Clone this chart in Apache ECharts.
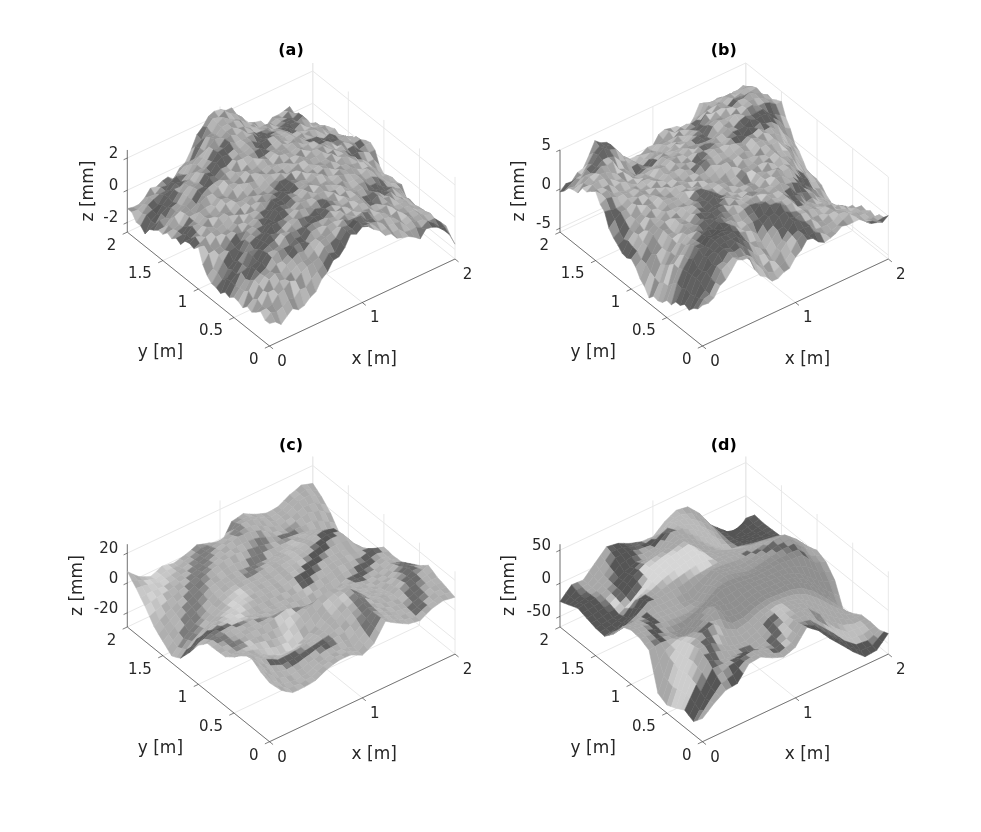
<!DOCTYPE html>
<html><head><meta charset="utf-8"><style>html,body{margin:0;background:#fff}#c{width:981px;height:832px}</style>
<script src="https://cdn.jsdelivr.net/npm/echarts@6/dist/echarts.min.js"></script></head><body><div id="c"></div>
<script>
const panelNames=['(a)','(b)','(c)','(d)'];
const xTicks=[0,1,2];
const yTicks=[0,0.5,1,1.5,2];
const zTicksA=[-2,0,2], zTicksB=[-5,0,5], zTicksC=[-20,0,20], zTicksD=[-50,0,50];
const zLimitsA=[-2.6,2.5], zLimitsB=[-5.5,5], zLimitsC=[-29.5,26], zLimitsD=[-66,59];
// surface heights in mm, rows y = 0..2, columns x = 0..2
const heightA=[
[-1.2,-1.5,-1.1,-1.05,-.6,.45,.95,1.85,2.1,1.7,.85,.5,.05,-.2,.1,-.45,-1.6],
[-1,-.6,-.2,.1,.4,.9,1.3,1.9,2,1.7,1.1,.8,.5,.2,.1,-.2,-1.1],
[-1.35,-.3,.2,.5,.8,1.2,1.5,1.8,1.9,1.6,1.3,1,.7,.4,.2,-.3,-1.15],
[-1.45,-.2,.4,.8,1.1,1.3,1.6,1.7,1.8,1.6,1.4,1.1,.9,.5,.2,-.5,-1.3],
[-1.5,-.4,.3,.9,1.2,1.4,1.6,1.7,1.8,1.7,1.5,1.2,1.1,.7,.3,-.4,-1.1],
[-1.5,-.6,.2,.8,1.2,1.5,1.7,1.8,1.9,1.8,1.6,1.4,1.2,.9,.4,-.3,-1.35],
[-1.75,-.8,.1,.6,1,1.4,1.6,1.8,1.9,1.9,1.7,1.6,1.4,1.2,.6,-.2,-.75],
[-1.4,-.5,.1,.5,.9,1.2,1.5,1.7,1.8,1.9,1.8,1.7,1.6,1.3,.7,-.1,-.7],
[-.15,-.1,.2,.5,.8,1.1,1.4,1.6,1.8,1.9,1.8,1.8,1.7,1.3,.6,-.2,-1],
[-.2,0,.3,.6,.8,1.1,1.4,1.6,1.7,1.8,1.9,1.9,1.7,1.2,.7,.3,.2],
[-.55,-.1,.3,.6,.9,1.2,1.5,1.6,1.7,1.8,1.9,1.8,1.5,1.1,.8,.6,.5],
[-.75,-.3,.2,.7,1,1.3,1.5,1.7,1.7,1.8,1.8,1.6,1.3,1,.7,.4,-.05],
[-.85,-.4,.1,.7,1.1,1.4,1.7,1.8,1.8,1.8,1.7,1.4,1.1,.8,.5,0,-.4],
[-1.15,-.6,-.1,.5,1,1.5,1.9,2,1.9,1.7,1.4,1.2,.9,.7,.4,-.2,-.65],
[-1.75,-.8,-.3,.2,.6,1.2,1.9,2.2,2.1,1.6,1.1,.9,.8,.7,.4,-.3,-.55],
[-1.4,-.9,-.5,-.2,.1,.8,1.6,2.3,2.3,1.7,1,.6,.4,.5,.4,-.4,-1.05],
[-1.15,-1.05,-.7,-.5,-.5,0,1.3,2.3,2.3,2.2,.9,.45,.1,.3,.35,-.6,-1.35]];
const heightB=[
[-.4,0,1.8,3.25,2.8,.1,-1.4,-1.25,.15,1.85,.95,.45,1.25,1.6,.7,-.45,-.05],
[-1.85,.3,2.2,3.4,3.2,1.5,-.2,-.5,1,2.4,1.8,1,1.5,1.7,.6,-.8,-1],
[-2.3,.5,2.4,3.6,3.8,3,1,.2,1.6,2.8,2.6,1.6,1.4,1.3,.2,-1.2,-1.45],
[-2.75,.6,2.6,3.4,3.6,3.2,2,1.4,2.6,3.4,3,2,1.2,.6,-.2,-1.3,-1.55],
[-3.5,.3,2.3,3,3.2,3.2,2.6,2.6,3.2,3.4,3.2,2.4,1.2,.4,-.6,-1.8,-2.45],
[-4.3,-.6,1.8,2.6,3,3.2,3,3.2,3.2,3,3.4,3.2,2.2,.8,-.8,-2.6,-3.55],
[-4.6,-1,1.2,2.2,2.8,3,3.2,3,2.6,2.6,3.2,3.8,3.2,1.6,-.6,-3,-4.7],
[-3.2,-.5,1.2,2,2.6,3,3.4,2.6,2.2,2.4,3,3.6,3.8,2.6,.4,-2,-3.5],
[-1.75,0,1.4,2,2.4,2.8,3,2.4,2.4,2.8,3.2,3.6,4,3.4,1.6,-1,-2.7],
[-1.85,0,1.5,2,2.3,2.6,2.6,2.6,3,3.4,3.6,3.8,4.2,3.8,2.6,.2,-2.75],
[-1.05,.6,1.7,2.1,2.3,2.4,2.4,2.8,3.4,3.6,3.8,4,4.3,4.2,3.4,1,-1.1],
[1.5,1.6,1.9,2,2,2.2,2.4,2.8,3.4,3.6,3.8,4,4.4,4.5,4.2,2.8,1],
[3.1,2.6,2,1.6,1.6,1.8,2.4,2.8,3,3,3.4,4,4.6,4.8,4.6,4.2,3.5],
[2.65,3,2.6,1.8,1,1,1.6,2.4,2.6,2.6,2.8,4,4.4,4.8,5,4.8,3.3],
[1.5,2.6,3.2,3,1.4,.4,.6,1.2,1.6,1.8,2.2,3.4,4,4.4,4.4,4.4,2.5],
[.8,1.5,2.8,4,3.2,1,.2,.4,.8,1.4,1.6,2,3.2,3.4,3.6,3.4,2],
[-.15,.4,1.25,4,3.5,.65,-.5,-.3,.25,1.5,.8,.1,2.6,2.15,1.65,1.35,1]];
const heightC=[
[10,1.2,-4,-4,-3,1,3,3,-1,3,14.5,9.6,5.4,4,8.3,10,8.7],
[12.5,3,-3,-4,-3,0,2,2,0,6,14,10,6,5,8,11,10.7],
[16.5,7,0,-2,-1,1,3,4,5,10,14,10,7,6,9,12,12.5],
[15,9,4,0,0,1,2,4,8,13,16,11,8,7,11,13,15.6],
[8,6,3,-2,-5,-5,-2,3,10,15,17,10,6,5,9,13,10.7],
[3.4,3,3,2,0,-1,4,9,13,15,13,7,5,3,5,9,7],
[3,3,3,4,4,6,8,6,3,2,3,5,4,2,3,6,3.4],
[2.7,3,4,4,4,2,1,0,-2,-3,-2,-1,2,2,3,5,3],
[-3.3,1,2,2,1,0,0,0,0,1,2,3,5,5,4,6,3.8],
[-13,-6,-2,0,1,2,2,2,2,4,5,6,7,7,6,2,-3],
[-21.7,-14,-9,-5,-1,2,3,3,3,5,6,7,9,11,10,0,-12],
[-25,-17,-11,-6,-1,2,3,3,4,5,6,7,9,11,9,-5,-26],
[-20,-14,-8,-4,1,3,4,3,2,2,3,4,5,6,3,-8,-16],
[-14.8,-10,-6,-2,2,5,7,8,7,6,4,3,2,1,-1,-6,-11],
[-6.2,-4,-3,-1,1,3,6,9,11,11,8,3,1,3,5,3,-2.4],
[1.2,0,-2,-1,0,2,4,6,8,11,11,6,2,4,8,9,3.8],
[7.6,.5,-3,.2,-1.5,.5,3.4,1,-4,8,9.8,5.6,2.7,3.4,7.6,10.5,8]];
const heightD=[
[-31,-16.5,-5,-3,18.5,20.5,11,4,10.5,32.5,19,-1.5,-19.5,-38,-53.5,-52,-35],
[-46.5,-20,5,12,15,18,12,6,12,28,24,6,-12,-32,-46,-48,-40.5],
[-40,-10,18,10,8,5,2,6,18,26,28,14,-4,-24,-38,-40,-39],
[-48,-5,25,25,15,5,4,10,22,28,26,20,4,-14,-28,-38,-39.5],
[-54,-8,22,30,35,20,10,14,22,26,25,22,14,0,-18,-34,-48],
[-47,-2,15,20,30,38,18,16,22,26,25,25,22,10,-8,-30,-56],
[7,10,8,4,20,30,25,20,25,28,27,26,24,16,0,-14,-19.5],
[14,12,6,0,0,10,22,30,30,28,26,26,28,26,24,5,-2.5],
[15.5,14,8,4,2,2,8,25,32,28,22,24,28,30,30,15,4],
[10,8,5,6,5,4,2,14,28,25,20,22,26,32,33,18,-1.5],
[-12,-8,0,12,10,12,14,18,20,22,22,18,20,22,20,8,-14.5],
[-26,-22,-15,6,10,18,24,28,32,20,18,12,8,8,6,-5,-20.5],
[-24.5,-22,-20,-10,4,20,28,32,36,20,10,2,-4,-6,-10,-15,-18.5],
[-20.5,-18,-15,-5,10,20,24,28,34,25,12,0,-18,-20,-20,-20,-19.5],
[-16,-14,-12,-4,6,12,10,15,32,30,20,8,-10,-22,-25,-24,-20],
[-22,-16,-12,-2,16,18,12,10,20,28,26,15,0,-20,-30,-22,-18.5],
[-27.5,-10.5,-11.5,5.5,22,19,10.5,5,4,18.5,27.5,24.5,6.5,-19.5,-35,-53.5,-34]];
// fine surface relief (hex digits, 7-8 = no change), estimated from the texture of the picture
const reliefA=[
"7b39e25a8c1f64d07a3b9e26c81f5a7d4","2e86a1d4b73f09c5e28a6d1b47f3c90e6","c4097f3ad61e82b5c047fa39d2e6718bc",
"81e5b27c904da63f18e5c29b70d4a6f31","6a3fd08be1752c94a63ef1b80d7592c4a","e17b4926fa0c83d5e1947b26fa38c0d59",
"3d950ce7182ba64f3d90ce582b17f46a9","b62a8f41de73095cb62a8d41f7e3905cb","f80d3c65a19e72b4f80c3d65a91e27b40",
"47e1b98d0263fa5c74e1b98d0632fa5c7","9c36f05ae8124db79c36f50ae1824db79","1ea84c72b3d9065f1ea84c27b39d605f1",
"d5702ea916fc384bd5072ea961fc348bd","68bf31d7a04e9c2586bf31d7a40e9c258","a2c49e06583f7d1ba2c4e906538f7d1ba",
"3f71d8b2c6e0945a3f17d8b2ce60945a3","e90a546f1b7c23d8e90a456f1b7c32d8e","15cb78e3a9d2046f15bc78e3a9d2064f1",
"7d2e0b94f6381ac57d2e0b9f46381ac57","b468d31ca07f5e29b486d31ca70f5e29b","0af5927e4bd1c6380fa5927e4db1c6380",
"c397ea160d58b24f3c97ea160d85b24f3","583b1fc69e2a07d4583b1cf69e2a70d45","e61d407a8352fb9ce16d407a3852fb9ce",
"29fc85b3e1704a6d29cf85b3e7104a6d2","a04738d6f2ce591ba04378d6f2ce519ba","7e1b5ca0943d8f267e1b5ca9043d8f627",
"d38629f7b15e0ca4d38269f7b1e50ca4d","4c09ae13687fd25b4c90ae13678fd25b4","9f52d7b04ca1e3689f25d7b04ac1e3689",
"16ba83ef5927c04d16ab83ef5972c04d1","e57c2906db4f1a83e75c2906bd4f1a83e","8203f6ae1c97d54b8023f6ae1c79d54b8"];
const reliefB=[
"a37e15c9d04b86f2a37e51c9d40b86f2a","5c18fb6027e9a3d45c81fb6207e9a3d45","e906d3a4b1752f8ce906d3a41b75f28ce",
"27bd4f80ca369e1527db4f80ac369e152","f4a1e7352d08c96bf4a17e352d08c69bf","6d8029bc5fe3174a6d8209bc5ef3174a6",
"b35fc1a87604de29b3f5c1a87640de29b","0e76d492a3b81cf50e67d492a38b1cf50","c92ab58e1f6d3074c9a2b58e1f6d3704c",
"41f837d06ce295ab41f873d06ce259ab4","8ad25c1be7096f348da25c1be7906f348","f3690ea4827bd1c5f3960ea4872bd1c5f",
"2c17b5d3f9064ea82c71b5d3f9604ea82","97e4c0a26d18f3b597e4ca026d81f3b59","5b08e3f17c92a64d5b80e3f1c792a64d5",
"d16f9a47b025c83ed16fa947b05c283ed","a42c76e8301fb59da24c76e3801fb95da","38e1d05b96f7c2a438e1d50b96f7c24a3",
"7fb95c2ea1480d637fb59c2ea1840d637","c0482d7f36eb91a5c0428d7f3e6b91a5c","e6a3f1984d0c572be6a3f9184d0c527be",
"19d57eb0c26a8f3419d75eb0c2a68f341","b72084c63f5ed9a1b72804c63f5de9a1b","4fe6a9d17b382c054fe69ad17b38c2054",
"d2c05387ea1f6b94d2c50387e1af6b94d","863b1ef40a7d9c25863b1fe40a7dc9258","0a9d74c2e5b86f130a9d7c42e5b8f6130",
"f51ea60d928b37c4f51ae60d92b837c4f","3c84b7f1d6095ea23c48b7f1d6905ea23","a6f2093c5e7d18b4a6f2903c57ed18b4a",
"e17d5ba48c2906f3e71d5ba48c9206f3e","59b0cf327d6a1e8495b0cf32d76a1e849","2d4e87a1063fc95b2d48e7a1603fc95b2"];
const reliefC=[
"79b5a7c68a6b7948a6c7b5968a7c59a67","8a6c7b5968a7c49a67a9b5a7c68b6a794","6b8a7c5a79b68a6c79b5a8c679a5b7a86",
"a7c5968b7a6c8a7b5968a7c6a95b7c68a","79b6a8c57a9b68a7c5a96b8c7a5b968a7","8c6a7b59a8c67b9a58a7c6b8a59c7a68b",
"6a9b7c58a6b97c8a5b7a9c68b7a5c96a8","b79a5c86a7b98c6a7b5a9c7a68b9a5c76","7a8c6b59a7c8b6a95a7c8b69a7b5c8a67",
"9b6a8c7a5b9c68a7b9a5c7b68a9c6b75a","6c8a7b95a6c8b7a59c7a6b8a95c7b6a8a","a7b9c65a8b7c9a68b5a7c9b68a7c59b6a",
"8a5c7b96a8c7b5a96c8a7b9a56c8b7a9a","7c9a68b7a5c9b6a8c7b9a5c68a9b7c6a8","a68b9c7a5b8c96a7b8c5a97b6a8c9b7a5",
"5b9a7c86a9c7b58a9b6c7a8a5c9b7a68c","8c7a9b65a8b9c7a5b8a9c67b9a5c8b7a6","a5b8c97a6c8b9a7c5a9b8c6a7b9c5a8b7",
"7a9c8b5a6b9c7a8b5c9a7b8c6a9b5c7a8","c68b9a7c5a8b9c7a6b8c5a9b7c8a6b9a7","9a7c5b8a9c6b7a9c8a5b9c7a8b6c9a7b5",
"6b8a9c7b5a9c8b7a6c9a8b5c7a9b8c6a7","a9c7b68a5c9b8a7c6b9a8c5b7a9c8b6a7","7b5c9a8b6a9c7b8a5c9b7a6c8b9a5c7b8",
"9a8c6b7a9c5b8a7c9b6a8c7b5a9c8b7a6","5c9b7a8c6b9a7c5b8a9c7b6a8c9b5a7c8","b7a9c8a5b9c7a6b8c9a7b5c8a9b6c7a5b",
"8c6a9b7c5a8b9c7a6b9c8a5b7c9a8b6c7","a7b9c5a8c7b9a6c8b5a9c7b8a6c9b7a5c","6c8b7a9c5b8a9c7b6a8c9b5a7c8b9a6c7",
"9b5a8c7b9a6c8b7a5c9b8a7c6b9a8c5b7","7a9c6b8a5c9b7a8c6b9a5c8b7a9c6b8a7","c8b7a5c9a8b6c7a9b5c8a7b9c6a8b5c7a"];
const reliefD=[];
// shaded bands on the surface: [x1, y1, x2, y2 in grid steps of 0.125 m, half width, grey factor]
const bandsA=[
[1.7,3.7,7.2,7.5,.9,.12],[.5,5,2,6.5,.8,.12],[3.8,2.4,8,4,.6,.15],[5.2,.1,8,.6,.6,.15],
[1.5,13.5,3,15,.8,.15],[0,13,1,14.5,.6,.12],[0,9,1,10.5,.6,.12],[2.9,11.6,6,13,.6,.15],
[8,11.5,10,13.3,.6,.15],[11.8,13.5,13.2,14.8,.6,.2],[12,10.5,14,11,.6,.15],[13.3,8.5,15,9.5,.5,.15],
[11.5,3.5,13.5,5,.5,.2],[13.8,.1,15.3,.5,.5,.1],[8,1,10,1.5,.5,.25],[5,15,6.5,15.9,.4,.25]];
const bandsB=[
[.5,2,4,2.5,1.8,.12],[3.5,3.5,6,7,1.2,.15],[7.8,3.8,9.6,.6,1,.12],[10.5,3.7,13.9,6.3,.6,.12],
[11.1,10.5,14.6,11.3,.8,.1],[12.5,13.3,14,13,.3,.15],[9.3,12,10.6,14.5,.5,.2],[7.5,10,9,11.5,.4,.25],
[2,14.5,3.5,15.5,.6,.2],[.1,8,.6,11,.4,.12],[5.2,14,6.4,14,.4,.15],[0,15.5,1,16,.4,.1],
[14.8,.1,16,.2,.4,.1],[9,5.6,9.2,7.6,.2,.5],[.6,7,1.6,7.5,.4,.55]];
const bandsC=[
[.5,14,3,16,1,1.3],[3,8,5,10,.9,1.3],[5,4,6,6,.8,1.3],[9,8,11,12,.7,1.1],[8.5,4,10.5,3,.5,1.2],[2,5,4,4,.6,1.2],
[9.5,8.5,13.7,10.9,.55,0],[1.3,10.7,6,15.2,.8,.45],[7.1,11.4,9.6,13.3,.6,.4],[8.3,14.2,8.9,15.6,.5,.55],
[12.5,6.5,15,8,.55,.1],[15.7,5.4,13.5,.9,.7,.25],[2.5,2.8,6.5,2,.5,.12],[.1,9.6,1.5,8,.5,.1],
[.8,7.5,1.5,5.5,.5,.4],[9.5,1,10.3,3.5,.7,.35],[11,13,12.5,13.5,.4,.3],[.1,8.7,3,7.3,.25,.25],[3,7.3,8,5.3,.2,.5]];
const bandsD=[
[3,12.5,8,11,1.3,1.55],[9,15.5,12,12.5,1.4,1.2],[.3,2.5,2,5,.9,1.45],[3.5,3.5,5,5.5,.8,1.25],
[7.5,1,9,3,.8,1.3],[12,1,15,2,.8,1.25],[4,6,14,6,2.2,.7],[6,9,14,8,1.1,.85],
[3.5,13,5,15.5,1.2,0],[0,16,1.2,11,1.4,0],[1.5,11,3,10.5,.8,0],[2.3,9,1.1,6.4,.5,0],
[0,1.5,1.5,1,.8,0],[2.3,1.7,3.5,4.2,.5,.15],[2.7,.2,5.5,2,.5,0],[3.5,4.5,6.5,4.5,.2,0],
[14.5,15.5,14.5,11.5,2,0],[15.4,11.5,15.4,10,1,0],[9.5,.2,14.8,.4,.7,0],[15,.2,16,.2,.3,0],[7,.8,8,2.6,.5,.15],
[11,2,12,2,.3,.1],[11,10,14.5,7,.3,.2],[6.5,15.5,8,14.5,.5,0]];
const heightGrids=[heightA,heightB,heightC,heightD];
const reliefGrids=[reliefA,reliefB,reliefC,reliefD];
const bandLists=[bandsA,bandsB,bandsC,bandsD];
const zTicks=[zTicksA,zTicksB,zTicksC,zTicksD];
const zLimits=[zLimitsA,zLimitsB,zLimitsC,zLimitsD];
const xMax=2,yMax=2;
// chart layout and look
const boxes=[{l:127.3,t:62.7,w:327.7,h:283.3},{l:560,t:62.7,w:328.3,h:283.3},{l:127.3,t:456.3,w:327.7,h:285.4},{l:560,t:456.3,w:328.3,h:285.4}];
const view={fu:.434,vx:.307,vy:.402,vz:.29};
const reliefScale=[.022,.04,.03,0], baseGrey=[0xa6,0xaa,0xb0,0xa8], speckle=[1.5,1.5,.7,0];
const zLabelOffset=[-39,-40,-50,-50];
const font='"DejaVu Sans"',inkColor='#262626',gridColor='#e8e8e8';

function toView(p,x,y,z){const fx=x/xMax,fy=y/yMax,fz=(z-zLimits[p][0])/(zLimits[p][1]-zLimits[p][0]);
  return [view.fu+fx*(1-view.fu)-fy*view.fu,view.vx*fx+view.vy*fy+view.vz*fz];}
function relief(p,a,b){const r=reliefGrids[p][b];const c=r?r.charAt(a):'';return c?parseInt(c,16)-7.5:0;}
function heightAt(p,a,b){
  const g=heightGrids[p],i=a>>1,j=b>>1,ii=(a+1)>>1,jj=(b+1)>>1;
  return (g[j][i]+g[j][ii]+g[jj][i]+g[jj][ii])/4+relief(p,a,b)*reliefScale[p];}
function cellColor(p,a,b){
  const r=relief(p,a,b),s=speckle[p];
  let g=baseGrey[p]+s*(relief(p,a+1,b)-r)+s*.6*(relief(p,a,b+1)-r);
  const u=(a+.5)/2,v=(b+.5)/2,rough=p<2?r*.035:0;
  bandLists[p].forEach(k=>{const dx=k[2]-k[0],dy=k[3]-k[1],l=dx*dx+dy*dy;
    const t=l?Math.max(0,Math.min(1,((u-k[0])*dx+(v-k[1])*dy)/l)):0;
    const d=(Math.hypot(u-k[0]-t*dx,v-k[1]-t*dy)+rough)/k[4];
    if(d<1){const w=d<.6?1:(1-d)/.4;g=0x55+(g-0x55)*(1+(k[5]-1)*w);}});
  g=Math.round(Math.max(0x55,Math.min(0xee,g)));
  return 'rgb('+g+','+g+','+g+')';}

function surfaceSeries(p){
  const cells=[];for(let a=31;a>=0;a--)for(let b=31;b>=0;b--)cells.push([a,b]);
  return {type:'custom',xAxisIndex:p,yAxisIndex:p,coordinateSystem:'cartesian2d',data:cells,z:3,silent:true,progressive:0,animation:false,clip:false,
    encode:{x:[],y:[]},
    renderItem(params,api){const a=api.value(0),b=api.value(1);
      const pt=(m,n)=>api.coord(toView(p,m/16,n/16,heightAt(p,m,n)));
      const col=cellColor(p,a,b);
      return {type:'polygon',shape:{points:[pt(a,b),pt(a+1,b),pt(a+1,b+1),pt(a,b+1)]},style:{fill:col,stroke:col,lineWidth:.5}};}};
}
function frameSeries(p){
  const lo=zLimits[p][0],hi=zLimits[p][1],segs=[];
  const add=(k,a,b,c,d,e,f)=>segs.push([k,a,b,c,d,e,f]);
  xTicks.forEach(x=>{add(0,x,0,lo,x,yMax,lo);add(0,x,yMax,lo,x,yMax,hi);});
  yTicks.forEach(y=>{add(0,0,y,lo,xMax,y,lo);add(0,xMax,y,lo,xMax,y,hi);});
  zTicks[p].forEach(z=>{add(0,0,yMax,z,xMax,yMax,z);add(0,xMax,yMax,z,xMax,0,z);});
  add(1,0,0,lo,xMax,0,lo);add(1,0,0,lo,0,yMax,lo);add(1,0,yMax,lo,0,yMax,hi);
  xTicks.forEach(x=>add(1,x,0,lo,x,-.05,lo));
  yTicks.forEach(y=>add(1,0,y,lo,-.05,y,lo));
  zTicks[p].forEach(z=>add(1,0,yMax,z,-.04,yMax,z));
  return {type:'custom',xAxisIndex:p,yAxisIndex:p,coordinateSystem:'cartesian2d',data:segs,z:2,silent:true,progressive:0,animation:false,clip:false,encode:{x:[],y:[]},
    renderItem(params,api){const v=[0,1,2,3,4,5,6].map(i=>api.value(i));
      const s=api.coord(toView(p,v[1],v[2],v[3])),e=api.coord(toView(p,v[4],v[5],v[6]));
      return {type:'line',shape:{x1:s[0],y1:s[1],x2:e[0],y2:e[1]},style:{stroke:v[0]?inkColor:gridColor,lineWidth:v[0]?.6:1}};}};
}
function labelSeries(p){
  const lo=zLimits[p][0],items=[];
  xTicks.forEach(x=>items.push([String(x),x,0,lo,12.5,16,'center',15,0]));
  yTicks.forEach(y=>items.push([String(y),0,y,lo,-11,14,'right',15,0]));
  zTicks[p].forEach(z=>items.push([String(z),0,yMax,z,-9,-4,'right',15,0]));
  items.push(['x [m]',1,0,lo,12,57,'center',17,0]);
  items.push(['y [m]',0,1,lo,-38,64,'center',17,0]);
  items.push(['z [mm]',0,yMax,(lo+zLimits[p][1])/2,zLabelOffset[p],0,'center',17,1]);
  return {type:'custom',xAxisIndex:p,yAxisIndex:p,coordinateSystem:'cartesian2d',data:items,z:4,silent:true,progressive:0,animation:false,clip:false,encode:{x:[],y:[]},
    renderItem(params,api){const it=items[params.dataIndex];
      const c=api.coord(toView(p,it[1],it[2],it[3]));
      return {type:'text',x:c[0]+it[4],y:c[1]+it[5],rotation:it[8]?Math.PI/2:0,
        style:{text:it[0],fill:inkColor,font:it[7]+'px '+font,align:it[6],verticalAlign:'middle'}};}};
}
const grids=boxes.map(b=>({left:b.l,top:b.t,width:b.w,height:b.h,containLabel:false,show:false}));
const axisCommon={type:'value',min:0,max:1,show:false};
const option={animation:false,backgroundColor:'#fff',
  title:panelNames.map((t,p)=>({text:t,left:boxes[p].l+163.7,top:p<2?43:438,textAlign:'center',padding:0,
    textStyle:{fontFamily:font,fontSize:16,fontWeight:'bold',color:'#000'}})),
  grid:grids,
  xAxis:boxes.map((b,i)=>Object.assign({gridIndex:i},axisCommon)),
  yAxis:boxes.map((b,i)=>Object.assign({gridIndex:i},axisCommon)),
  series:boxes.flatMap((b,p)=>[frameSeries(p),surfaceSeries(p),labelSeries(p)])};
echarts.init(document.getElementById('c'),null,{renderer:'canvas'}).setOption(option);
</script></body></html>
